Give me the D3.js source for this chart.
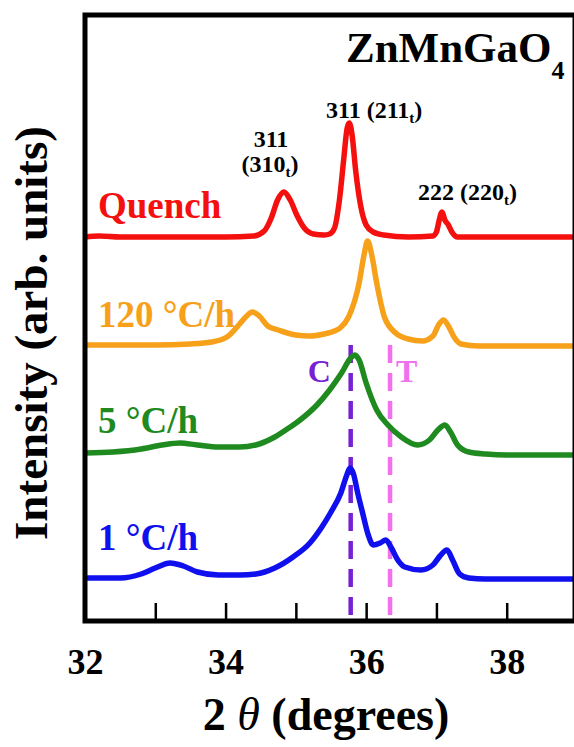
<!DOCTYPE html>
<html>
<head>
<meta charset="utf-8">
<script src="https://cdn.jsdelivr.net/npm/d3@7"></script>
<style>
  body { margin: 0; background: #fff; }
  svg { display: block; font-family: "Liberation Serif", "Times New Roman", serif; font-weight: bold; }
</style>
</head>
<body>
<svg width="574" height="747"></svg>
<script>
// XRD patterns of ZnMnGaO4, curves are stacked (offset) intensities, arb. units
var quench = [[32.0,384],[32.2,385],[32.5,384],[33.0,384],[33.5,384],[34.0,384],[34.4,385],[34.55,390],[34.65,403],[34.74,421],[34.83,429],[34.92,421],[35.02,405],[35.12,393],[35.25,387],[35.4,386],[35.48,387],[35.55,393],[35.62,421],[35.68,461],[35.73,493],[35.76,498],[35.80,486],[35.85,451],[35.92,416],[36.0,396],[36.1,389],[36.25,386],[36.6,384],[36.95,385],[37.0,389],[37.04,401],[37.08,409],[37.12,401],[37.17,396],[37.22,389],[37.3,384],[37.6,384],[38.0,384],[38.5,384],[39.0,384]];
var rate120 = [[32.0,276],[32.5,276],[33.0,276],[33.5,277],[33.8,279],[34.02,284],[34.2,297],[34.3,305],[34.38,309],[34.48,305],[34.6,295],[34.75,291],[35.0,286],[35.2,285],[35.4,287],[35.55,290],[35.63,293],[35.75,304],[35.9,338],[35.97,366],[36.02,380],[36.08,366],[36.15,338],[36.26,304],[36.42,288],[36.6,282],[36.8,280],[36.95,285],[37.03,296],[37.1,301],[37.17,295],[37.25,284],[37.35,277],[37.6,275],[38.0,275],[38.5,275],[39.0,275]];
var rate5 = [[32.0,168],[32.4,169],[32.8,172],[33.1,176],[33.35,178],[33.6,176],[33.9,174],[34.2,174],[34.43,176],[34.7,184],[34.9,193],[35.06,201],[35.3,216],[35.48,231],[35.65,248],[35.78,263],[35.84,266],[35.9,261],[36.0,238],[36.15,211],[36.31,196],[36.5,184],[36.73,176],[36.9,181],[37.02,191],[37.12,196],[37.2,189],[37.3,176],[37.46,169],[37.7,167],[38.0,166],[38.5,166],[39.0,166]];
var rate1 = [[32.0,43],[32.5,43],[32.8,47],[33.0,53],[33.21,58],[33.4,55],[33.6,49],[33.9,46],[34.2,46],[34.43,47],[34.7,53],[34.96,64],[35.2,78],[35.37,94],[35.5,109],[35.64,128],[35.72,145],[35.77,153],[35.82,147],[35.88,128],[35.95,108],[36.03,86],[36.1,76],[36.2,78],[36.28,81],[36.36,73],[36.45,61],[36.55,54],[36.78,51],[36.95,56],[37.05,65],[37.15,71],[37.23,61],[37.33,47],[37.46,43],[37.7,42],[38.0,42],[38.5,42],[39.0,42]];

var seriesNames = ["Quench", "120 °C/h", "5 °C/h", "1 °C/h"];
var seriesColors = ["#f51010", "#f7a01a", "#1f8a1f", "#1010ee"];
var seriesData = [quench, rate120, rate5, rate1];
var labelLevels = [403, 294, 188, 71];   // text baseline of each name, intensity units

var xTicks = [32, 33, 34, 35, 36, 37, 38, 39];
var cubicLine = 35.78, tetraLine = 36.34;   // C and T reference positions

var svg = d3.select("svg");
var mLeft = 85, mRight = 577, mTop = 15, mBottom = 621;

var x = d3.scaleLinear().domain([32, 39]).range([mLeft, mRight]);
var y = d3.scaleLinear().domain([0, 606]).range([mBottom, mTop]);

svg.append("clipPath").attr("id", "clip")
    .append("rect").attr("x", mLeft).attr("y", mTop)
    .attr("width", mRight - mLeft).attr("height", mBottom - mTop);

var line = d3.line()
    .x(d => x(d[0]))
    .y(d => y(d[1]))
    .curve(d3.curveMonotoneX);

// dashed reference lines
var refs = [[cubicLine, "#7622d4", "C", -43], [tetraLine, "#f070ee", "T", 6]];
refs.forEach(r => {
    svg.append("line")
        .attr("x1", x(r[0])).attr("x2", x(r[0]))
        .attr("y1", y(276)).attr("y2", mBottom)
        .attr("stroke", r[1])
        .attr("stroke-width", 4.5)
        .attr("stroke-dasharray", "18,10");
    svg.append("text")
        .attr("x", x(r[0]) + r[3]).attr("y", y(239))
        .attr("fill", r[1])
        .attr("font-size", 32)
        .text(r[2]);
});

svg.append("g")
    .attr("clip-path", "url(#clip)")
    .selectAll("path")
    .data(seriesData)
    .join("path")
    .attr("d", line)
    .attr("fill", "none")
    .attr("stroke", (d, i) => seriesColors[i])
    .attr("stroke-width", 5.5)
    .attr("stroke-linejoin", "round");

svg.selectAll("text.series")
    .data(seriesNames)
    .join("text")
    .attr("class", "series")
    .attr("x", 98)
    .attr("y", (d, i) => y(labelLevels[i]))
    .attr("fill", (d, i) => seriesColors[i])
    .attr("font-size", 37)
    .text(d => d);

// x axis with inward ticks
var xAxis = d3.axisBottom(x)
    .tickValues(xTicks)
    .tickSize(-18)
    .tickSizeOuter(0)
    .tickPadding(27)
    .tickFormat(d => d % 2 === 0 ? d : "");

var gx = svg.append("g")
    .attr("transform", "translate(0," + mBottom + ")")
    .call(xAxis);
gx.select(".domain").remove();
gx.selectAll(".tick line").attr("stroke", "#000").attr("stroke-width", 2.5);
gx.selectAll(".tick text")
    .attr("fill", "#000")
    .attr("font-size", 36)
    .attr("font-family", "Liberation Serif, serif")
    .attr("font-weight", "bold");

// frame
svg.append("rect")
    .attr("x", mLeft).attr("y", mTop)
    .attr("width", 575 - mLeft).attr("height", mBottom - mTop)
    .attr("fill", "none")
    .attr("stroke", "#000")
    .attr("stroke-width", 5);

// title
var title = svg.append("text").attr("x", 346).attr("y", 62).attr("font-size", 43);
title.append("tspan").text("ZnMnGaO");
title.append("tspan").attr("font-size", 26).attr("dy", 17).text("4");

// peak indices
function hkl(tx, ty, pre, anchor) {
    var t = svg.append("text").attr("x", tx).attr("y", ty)
        .attr("font-size", 24).attr("text-anchor", anchor || "start");
    t.append("tspan").text(pre);
    t.append("tspan").attr("font-size", 15).attr("dy", 5).text("t");
    t.append("tspan").attr("dy", -5).text(")");
}
svg.append("text").attr("x", 271).attr("y", 147)
    .attr("font-size", 24).attr("text-anchor", "middle").text("311");
hkl(270, 172, "(310", "middle");
hkl(326, 118, "311 (211");
hkl(418, 200, "222 (220");

// axis titles
var xl = svg.append("text")
    .attr("x", 326).attr("y", 730)
    .attr("text-anchor", "middle")
    .attr("font-size", 46);
xl.append("tspan").text("2 ");
xl.append("tspan").attr("font-style", "italic").attr("font-weight", "normal").text("θ");
xl.append("tspan").text(" (degrees)");

svg.append("text")
    .attr("transform", "translate(47,333) rotate(-90)")
    .attr("text-anchor", "middle")
    .attr("font-size", 47)
    .text("Intensity (arb. units)");
</script>
</body>
</html>
